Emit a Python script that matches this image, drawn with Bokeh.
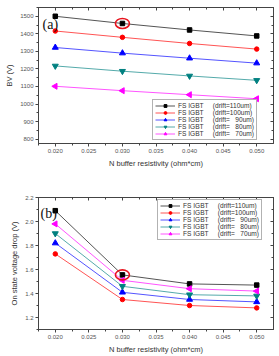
from bokeh.plotting import figure
from bokeh.layouts import column
from bokeh.models import (FixedTicker, LinearAxis, Range1d, Legend, LegendItem,
                          Label, NumeralTickFormatter, CustomJSTickFormatter)
from bokeh.embed import file_html
from bokeh.resources import INLINE

# N buffer resistivity (ohm*cm)
resistivity = [0.020, 0.030, 0.040, 0.050]

# Breakdown voltage BV (V) per drift length
bv_110 = [1500, 1459, 1422, 1388]
bv_100 = [1416, 1380, 1345, 1313]
bv_90 = [1322, 1290, 1261, 1233]
bv_80 = [1217, 1187, 1160, 1135]
bv_70 = [1101, 1076, 1053, 1030]

# On state voltage drop (V) per drift length
von_110 = [2.09, 1.555, 1.48, 1.47]
von_100 = [1.73, 1.35, 1.30, 1.28]
von_90 = [1.82, 1.41, 1.35, 1.33]
von_80 = [1.90, 1.46, 1.39, 1.38]
von_70 = [1.98, 1.51, 1.44, 1.42]

labels = [
    "FS IGBT\u00a0\u00a0\u00a0\u00a0\u00a0(drift=110um)",
    "FS IGBT\u00a0\u00a0\u00a0\u00a0\u00a0(drift=100um)",
    "FS IGBT\u00a0\u00a0\u00a0\u00a0\u00a0(drift=\u00a0\u00a0\u00a090um)",
    "FS IGBT\u00a0\u00a0\u00a0\u00a0\u00a0(drift=\u00a0\u00a0\u00a080um)",
    "FS IGBT\u00a0\u00a0\u00a0\u00a0\u00a0(drift=\u00a0\u00a0\u00a070um)",
]

x_major = [0.020, 0.025, 0.030, 0.035, 0.040, 0.045, 0.050]
x_minor = [0.0175 + 0.0025 * i for i in range(15)]

styles = [
    ("#000000", "square", 4.5),
    ("#ff0000", "circle", 4.5),
    ("#0000ff", "triangle", 6),
    ("#008080", "inverted_triangle", 6),
    ("#ff00ff", "triangle", 6),
]

SANS = "Liberation Sans"
AXIS_COL = "#444444"
TICK_LABEL_COL = "#555555"


def style_axis(ax, ticker, fmt=None, labels_on=True, inside=False):
    ax.ticker = ticker
    ax.axis_line_color = AXIS_COL
    ax.major_tick_line_color = AXIS_COL
    ax.minor_tick_line_color = AXIS_COL
    if inside:
        ax.major_tick_in = 3
        ax.major_tick_out = 0
        ax.minor_tick_in = 2
        ax.minor_tick_out = 0
    else:
        ax.major_tick_in = 0
        ax.major_tick_out = 3
        ax.minor_tick_in = 0
        ax.minor_tick_out = 2
    if labels_on:
        ax.major_label_text_font = SANS
        ax.major_label_text_font_size = "6px"
        ax.major_label_text_color = TICK_LABEL_COL
        ax.major_label_standoff = 2
        ax.axis_label_text_font = SANS
        ax.axis_label_text_font_size = "7.5px"
        ax.axis_label_text_font_style = "normal"
        ax.axis_label_text_color = "#333333"
        ax.axis_label_standoff = 3
        if fmt is not None:
            ax.formatter = fmt
    else:
        # mirrored frame axis: ticks only, blank labels
        ax.formatter = CustomJSTickFormatter(code="return ''")
        ax.major_label_text_font_size = "6px"
        ax.major_label_standoff = 0
        ax.axis_label = None


def make_panel(ys, y_range, y_major, y_minor, y_fmt, y_label,
               border, legend_loc, tag, tag_pos, mark_series):
    left, right, top, bottom = border
    p = figure(width=279, height=178, output_backend="svg",
               toolbar_location=None,
               x_range=Range1d(0.0175, 0.0525), y_range=Range1d(*y_range),
               min_border_left=left, min_border_right=right,
               min_border_top=top, min_border_bottom=bottom,
               background_fill_color="white", border_fill_color="white")
    p.grid.visible = False
    p.outline_line_color = AXIS_COL

    xt = FixedTicker(ticks=x_major, minor_ticks=x_minor)
    yt = FixedTicker(ticks=y_major, minor_ticks=y_minor)
    style_axis(p.xaxis[0], xt, NumeralTickFormatter(format="0.000"))
    style_axis(p.yaxis[0], yt, y_fmt)
    p.xaxis[0].axis_label = "N buffer resistivity (ohm*cm)"
    p.yaxis[0].axis_label = y_label

    top_ax = LinearAxis()
    style_axis(top_ax, FixedTicker(ticks=x_major, minor_ticks=x_minor),
               labels_on=False, inside=True)
    right_ax = LinearAxis()
    style_axis(right_ax, FixedTicker(ticks=y_major, minor_ticks=y_minor),
               labels_on=False, inside=True)
    p.add_layout(top_ax, "above")
    p.add_layout(right_ax, "right")

    items = []
    for vals, (col, mk, sz), lab in zip(ys, styles, labels):
        ln = p.line(resistivity, vals, line_color=col, line_width=0.9,
                    line_alpha=0.75)
        if mk == "triangle" and col == "#ff00ff":
            sc = p.scatter(resistivity, vals, marker="triangle", size=sz,
                           angle=1.5708, fill_color=col, line_color=col)
        else:
            sc = p.scatter(resistivity, vals, marker=mk, size=sz,
                           fill_color=col, line_color=col)
        items.append(LegendItem(label=lab, renderers=[ln, sc]))

    # highlighted operating point
    p.ellipse(x=[resistivity[1]], y=[mark_series[1]], width=14, height=10,
              width_units="screen", height_units="screen",
              fill_color=None, line_color="#e8141e", line_width=1.6)

    p.add_layout(Label(x=tag_pos[0], y=tag_pos[1], text=tag,
                       text_font="Liberation Serif", text_font_size="14px",
                       text_color="#111111", text_baseline="middle"))

    leg = Legend(items=items, location=legend_loc)
    leg.label_text_font = SANS
    leg.label_text_font_size = "6.6px"
    leg.label_text_color = "#333333"
    leg.label_height = 7
    leg.glyph_height = 7
    leg.glyph_width = 20
    leg.label_standoff = 3
    leg.spacing = 0
    leg.padding = 2
    leg.margin = 0
    leg.border_line_color = "#666666"
    leg.border_line_width = 1
    leg.background_fill_color = "white"
    leg.background_fill_alpha = 1
    p.add_layout(leg, "center")
    return p


p1 = make_panel([bv_110, bv_100, bv_90, bv_80, bv_70], (775, 1550),
                list(range(800, 1501, 100)), list(range(800, 1551, 50)),
                NumeralTickFormatter(format="0"), "BV (V)",
                (38, 6, 7, 35), (114, 3), "(a)", (0.0181, 1453), bv_110)

p2 = make_panel([von_110, von_100, von_90, von_80, von_70], (1.1, 2.2),
                [1.2, 1.4, 1.6, 1.8, 2.0, 2.2],
                [1.1 + 0.1 * i for i in range(12)],
                NumeralTickFormatter(format="0.0"), "On state voltage drop (V)",
                (34, 6, 19, 23), (119, 89), "(b)", (0.0178, 2.065), von_110)

layout = column(p1, p2, spacing=0)
open("out.html", "w").write(file_html(layout, INLINE))
